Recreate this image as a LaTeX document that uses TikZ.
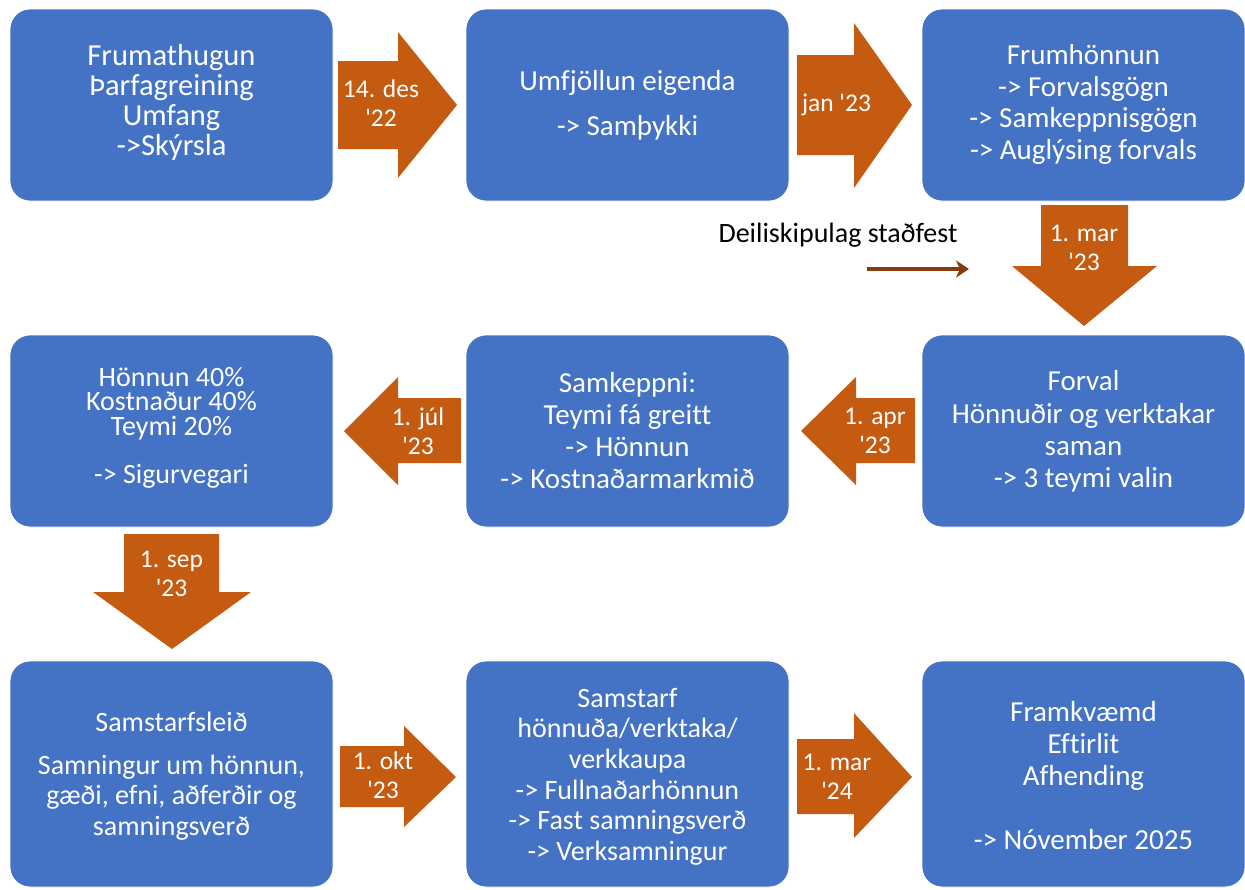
\documentclass[tikz,border=0pt]{standalone}
\usepackage{fontspec}
\newfontfamily\carl{Carlito}[Ligatures=NoCommon]
\usetikzlibrary{arrows.meta}
\definecolor{boxblue}{HTML}{4472C4}
\definecolor{arrorange}{HTML}{C55A11}
\definecolor{darkbrown}{HTML}{843C0C}
\begin{document}
\begin{tikzpicture}[x=1pt,y=-1pt,
  stage/.style={fill=boxblue, draw=white, line width=0.8pt, rounded corners=20pt, inner sep=0pt, minimum width=323pt},
  stagetext/.style={text=white, align=center, inner sep=0pt, font=\carl\fontsize{29}{32}\selectfont},
  blockarrow/.style={fill=arrorange, draw=none},
  datetext/.style={text=white, align=center, inner sep=0pt, font=\carl\fontsize{25.5}{29}\selectfont},
  notetext/.style={text=black, inner sep=0pt, font=\carl\fontsize{28}{32}\selectfont},
]
\useasboundingbox (0,0) rectangle (1245,889);

% ---------- stage boxes ----------
\node[stage, minimum height=192pt] (b1) at (171.5,105) {};
\node[stage, minimum height=192pt] (b2) at (627.5,105) {};
\node[stage, minimum height=192pt] (b3) at (1083.5,105) {};
\node[stage, minimum height=192pt] (b4) at (1083.5,431) {};
\node[stage, minimum height=192pt] (b5) at (627.5,431) {};
\node[stage, minimum height=192pt] (b6) at (171.5,431) {};
\node[stage, minimum height=226pt] (b7) at (171.5,774) {};
\node[stage, minimum height=226pt] (b8) at (627.5,774) {};
\node[stage, minimum height=226pt] (b9) at (1083.5,774) {};

% ---------- stage texts ----------
\node[stagetext, font=\carl\fontsize{30.5}{30}\selectfont] (t1) at (171.5,102)
  {Frumathugun\\Þarfagreining\\Umfang\\->Skýrsla};
\node[stagetext] (t2) at (627.5,105.5)
  {Umfjöllun eigenda\\[13pt]-> Samþykki};
\node[stagetext, font=\carl\fontsize{29}{31.7}\selectfont] (t3) at (1083.5,104.5)
  {Frumhönnun\\-> Forvalsgögn\\-> Samkeppnisgögn\\-> Auglýsing forvals};
\node[stagetext, font=\carl\fontsize{29}{32.3}\selectfont] (t4) at (1083.5,431.5)
  {Forval\\Hönnuðir og verktakar\\saman\\-> 3 teymi valin};
\node[stagetext, font=\carl\fontsize{29}{31.7}\selectfont] (t5) at (627.5,430.5)
  {Samkeppni:\\Teymi fá greitt\\-> Hönnun\\-> Kostnaðarmarkmið};
\node[stagetext, font=\carl\fontsize{28}{24.5}\selectfont] (t6) at (171.5,428)
  {Hönnun 40\%\\Kostnaður 40\%\\Teymi 20\%\\[24pt]-> Sigurvegari};
\node[stagetext, font=\carl\fontsize{28}{30.5}\selectfont] (t7) at (171.5,776)
  {Samstarfsleið\\[12.5pt]Samningur um hönnun,\\gæði, efni, aðferðir og\\samningsverð};
\node[stagetext, font=\carl\fontsize{28}{30.6}\selectfont] (t8) at (627.5,776.5)
  {Samstarf\\hönnuða/verktaka/\\verkkaupa\\-> Fullnaðarhönnun\\-> Fast samningsverð\\-> Verksamningur};
\node[stagetext, font=\carl\fontsize{29}{32}\selectfont] (t9) at (1083.5,776)
  {Framkvæmd\\Eftirlit\\Afhending\\[32pt]-> Nóvember 2025};

% ---------- block arrows ----------
\fill[blockarrow] (338,61) -- (398,61) -- (398,32) -- (457,105) -- (398,178) -- (398,149) -- (338,149) -- cycle;
\fill[blockarrow] (797,55) -- (854,55) -- (854,23) -- (912,105) -- (854,188) -- (854,155) -- (797,155) -- cycle;
\fill[blockarrow] (1041,205) -- (1128,205) -- (1128,266) -- (1157,266) -- (1084,326) -- (1012,266) -- (1041,266) -- cycle;
\fill[blockarrow] (915,398) -- (856,398) -- (856,377) -- (801,431) -- (856,485) -- (856,463) -- (915,463) -- cycle;
\fill[blockarrow] (461,398) -- (398,398) -- (398,377) -- (344,431) -- (398,485) -- (398,463) -- (461,463) -- cycle;
\fill[blockarrow] (124,534) -- (219,534) -- (219,592) -- (251,592) -- (172,649) -- (93,592) -- (124,592) -- cycle;
\fill[blockarrow] (340,746) -- (404,746) -- (404,726) -- (456,777) -- (404,827) -- (404,807) -- (340,807) -- cycle;
\fill[blockarrow] (797,739) -- (854,739) -- (854,713) -- (912,777) -- (854,838) -- (854,814) -- (797,814) -- cycle;

% ---------- date labels ----------
\node[datetext] (d1) at (381,103.5) {14. des\\'22};
\node[datetext] (d2) at (836.5,105) {jan '23};
\node[datetext] (d3) at (1084,247.5) {1. mar\\'23};
\node[datetext] (d4) at (875,431) {1. apr\\'23};
\node[datetext] (d5) at (418,431) {1. júl\\'23};
\node[datetext] (d6) at (171.5,574) {1. sep\\'23};
\node[datetext] (d7) at (383,775.5) {1. okt\\'23};
\node[datetext] (d8) at (837,777) {1. mar\\'24};

% ---------- note ----------
\node[notetext] (note) at (838,235) {Deiliskipulag staðfest};
\coordinate (ns) at (867,269);
\coordinate (ne) at (969,269);
\draw[darkbrown, line width=4.5pt, -{Stealth[length=13pt,width=17pt,inset=4pt]}] (ns) -- (ne);
\end{tikzpicture}
\end{document}
